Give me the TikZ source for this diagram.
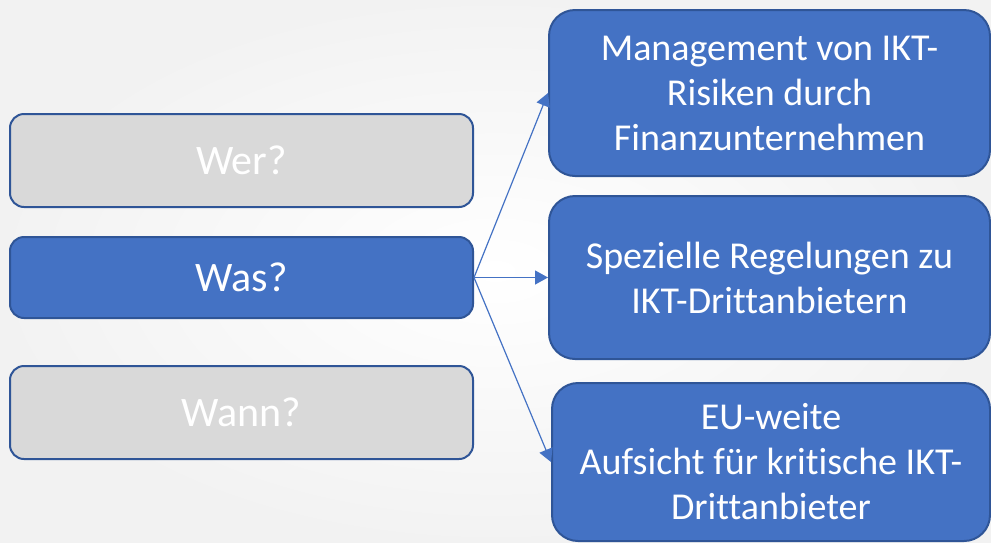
\documentclass[tikz,border=0pt]{standalone}
\usepackage{fontspec}
\setmainfont{Carlito}[Ligatures=NoCommon]
\usetikzlibrary{arrows.meta}
\definecolor{accblue}{HTML}{4472C4}
\definecolor{accedge}{HTML}{2F5597}
\definecolor{lightfill}{HTML}{D9D9D9}

\begin{document}
\begin{tikzpicture}[x=0.5pt,y=-0.5pt,>={Triangle[length=6.5pt,width=7pt]},
  frage/.style={draw=accedge,line width=1pt,rounded corners=7pt,
    minimum width=231.5pt,text=white,font=\fontsize{21}{25}\selectfont},
  thema/.style={draw=accedge,line width=1pt,rounded corners=13pt,fill=accblue,
    text=white,align=center,font=\fontsize{19}{22.5}\selectfont},
  pfeil/.style={->,accblue,line width=0.6pt}]
  % background
  \shade[inner color=white,outer color=black!5] (0,0) rectangle (991,542);
  \useasboundingbox (0,0) rectangle (991,542);
  % left column
  \node[frage,fill=lightfill,minimum height=46.5pt] (wer)  at (241.5,160.5) {Wer?};
  \node[frage,fill=accblue,minimum height=40.5pt]   (was)  at (241.5,277.5) {Was?};
  \node[frage,fill=lightfill,minimum height=46.5pt] (wann) at (241.5,412.5) {Wann?};
  % right column
  \node[thema,minimum width=220.5pt,minimum height=83pt] (risiko) at (769.5,93)
    {Management von IKT-\\Risiken durch\\Finanzunternehmen};
  \node[thema,minimum width=220.5pt,minimum height=81.5pt] (regeln) at (769.5,277.5)
    {Spezielle Regelungen zu\\IKT-Drittanbietern};
  \node[thema,minimum width=219pt,minimum height=79pt] (aufsicht) at (771,462)
    {EU-weite\\Aufsicht für kritische IKT-\\Drittanbieter};
  % connectors
  \foreach \t in {risiko,regeln,aufsicht}
    \draw[pfeil] (was.east) -- (\t.west);
\end{tikzpicture}
\end{document}
